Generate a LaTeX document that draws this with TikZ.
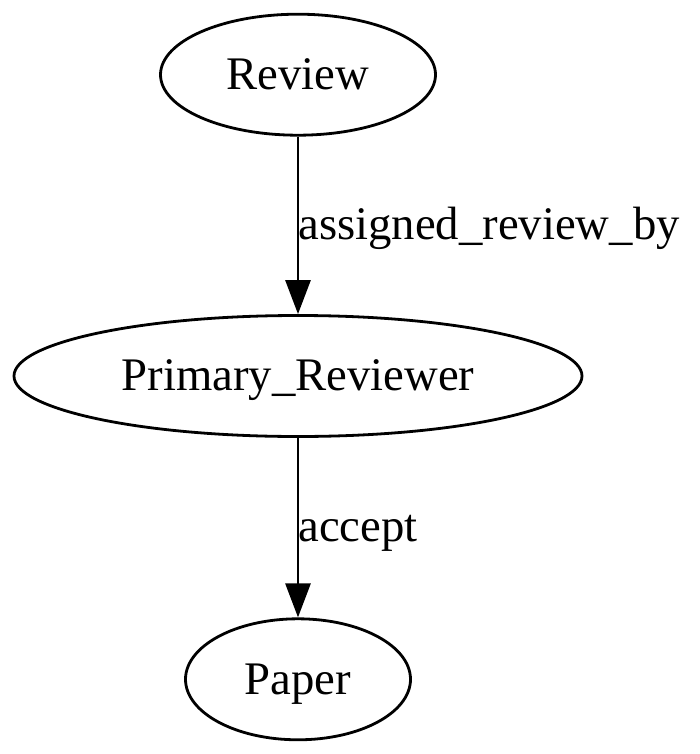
\documentclass[tikz,border=0pt]{standalone}
\usepackage{fontspec}
\setmainfont{Liberation Serif}
\usetikzlibrary{arrows.meta,shapes.geometric}
\begin{document}
\begin{tikzpicture}[x=1pt,y=-1pt,
    cls/.style={draw,ellipse,line width=2.8pt,minimum height=121pt,inner sep=0,
        text height=30pt,text depth=0.6pt,font=\fontsize{46.7}{56}\selectfont},
    rel/.style={line width=2.8pt,-{Triangle[length=34pt,width=25pt]}},
    lbl/.style={anchor=base west,inner sep=0,yshift=-14pt,xshift=-1pt,
        font=\fontsize{46.7}{56}\selectfont}]
    \useasboundingbox (0,0) rectangle (700,754);
    \node[cls,minimum width=275pt] (review) at (298,74.7) {Review};
    \node[cls,minimum width=568pt] (primary) at (298,376) {Primary\_Reviewer};
    \node[cls,minimum width=225pt] (paper) at (298,679.3) {Paper};
    \draw[rel] (review) -- node[lbl] {assigned\_review\_by} (primary);
    \draw[rel] (primary) -- node[lbl] {accept} (paper);
\end{tikzpicture}
\end{document}
